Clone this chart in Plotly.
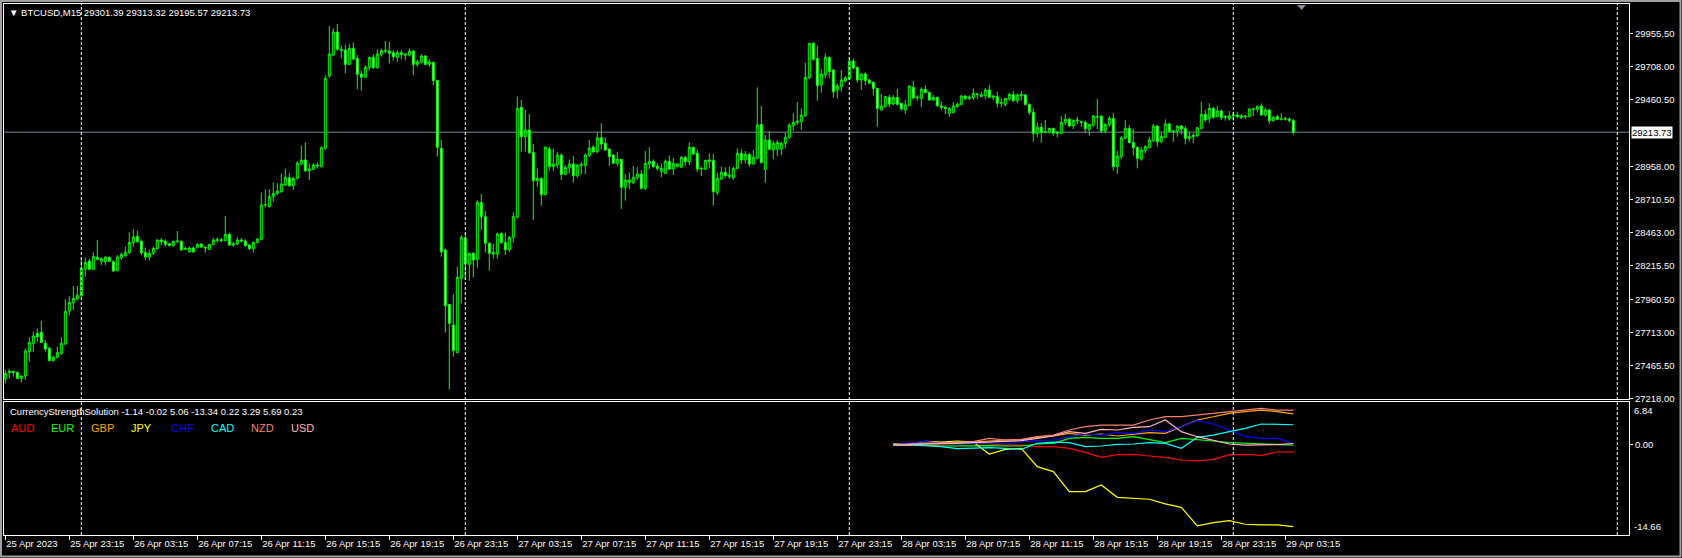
import pandas as pd
import plotly.graph_objects as go

# ---------------- DATA ----------------
SYMBOL_TITLE = "\u25BC BTCUSD,M15 29301.39 29313.32 29195.57 29213.73"
START = "2023-04-25 19:15"

open_ = [27362, 27410, 27420, 27412, 27367, 27385, 27567, 27630, 27705, 27712,
         27630, 27592, 27500, 27525, 27555, 27625, 27875, 27935, 27962, 27987,
         28187, 28247, 28185, 28275, 28242, 28242, 28275, 28242, 28175, 28272,
         28287, 28312, 28385, 28432, 28395, 28312, 28277, 28305, 28340, 28405,
         28395, 28377, 28362, 28392, 28395, 28335, 28317, 28345, 28347, 28375,
         28352, 28335, 28372, 28402, 28407, 28400, 28447, 28367, 28375, 28405,
         28397, 28367, 28340, 28385, 28410, 28667, 28655, 28730, 28755, 28767,
         28817, 28872, 28812, 28867, 28975, 29005, 28925, 28935, 28967, 28955,
         29092, 29635, 29792, 29965, 29835, 29830, 29722, 29842, 29767, 29650,
         29625, 29700, 29775, 29697, 29797, 29820, 29822, 29810, 29775, 29810,
         29790, 29792, 29822, 29722, 29737, 29785, 29722, 29737, 29602, 29092,
         28330, 27922, 27767, 27560, 28117, 28417, 28222, 28305, 28260, 28687,
         28580, 28380, 28310, 28300, 28455, 28387, 28332, 28425, 28577, 29400,
         29180, 29230, 29062, 28850, 28867, 28745, 29087, 28955, 28967, 29042,
         28897, 28947, 28975, 28887, 28965, 28962, 29037, 29102, 29067, 29172,
         29130, 29087, 29042, 28980, 29010, 28800, 28835, 28835, 28872, 28900,
         28792, 28975, 28995, 28960, 28917, 28905, 28995, 28937, 28955, 28950,
         29025, 28992, 29100, 29055, 28937, 28935, 29005, 29002, 28760, 28862,
         28912, 28880, 28872, 28942, 29055, 29005, 29047, 28975, 29017, 29272,
         28935, 29155, 29080, 29087, 29087, 29130, 29172, 29262, 29287, 29292,
         29337, 29622, 29880, 29767, 29567, 29642, 29775, 29680, 29530, 29555,
         29597, 29612, 29747, 29700, 29605, 29650, 29605, 29587, 29542, 29380,
         29405, 29475, 29425, 29475, 29430, 29380, 29412, 29550, 29470, 29467,
         29535, 29512, 29455, 29475, 29410, 29400, 29355, 29362, 29405, 29422,
         29485, 29465, 29472, 29497, 29480, 29487, 29530, 29475, 29480, 29430,
         29422, 29462, 29497, 29450, 29487, 29492, 29422, 29362, 29205, 29250,
         29212, 29212, 29242, 29205, 29205, 29285, 29310, 29262, 29297, 29292,
         29287, 29235, 29267, 29330, 29335, 29222, 29270, 29317, 28955, 29030,
         29167, 29242, 29137, 29100, 29012, 29075, 29097, 29150, 29260, 29142,
         29175, 29275, 29217, 29217, 29260, 29242, 29167, 29180, 29185, 29242,
         29347, 29315, 29392, 29330, 29372, 29325, 29312, 29335, 29342, 29322,
         29330, 29330, 29385, 29385, 29410, 29342, 29380, 29300, 29330, 29310,
         29312, 29312, 29301.39]
high = [27430, 27435, 27425, 27417, 27390, 27592, 27675, 27717, 27742, 27797,
        27655, 27605, 27535, 27605, 27675, 27960, 27985, 28060, 28060, 28267,
        28275, 28265, 28312, 28405, 28275, 28285, 28280, 28255, 28292, 28312,
        28355, 28462, 28487, 28475, 28410, 28350, 28335, 28355, 28410, 28420,
        28410, 28385, 28400, 28472, 28400, 28355, 28355, 28355, 28380, 28380,
        28355, 28375, 28420, 28425, 28420, 28585, 28460, 28392, 28425, 28420,
        28410, 28372, 28395, 28420, 28762, 28785, 28787, 28837, 28830, 28905,
        28942, 28905, 28880, 28997, 29112, 29137, 28980, 28980, 28987, 29110,
        29642, 30010, 29992, 30025, 29862, 29867, 29875, 29887, 29792, 29675,
        29717, 29780, 29800, 29835, 29842, 29897, 29892, 29830, 29830, 29830,
        29805, 29842, 29830, 29755, 29800, 29792, 29760, 29742, 29605, 29155,
        28342, 27925, 28000, 28205, 28442, 28455, 28310, 28315, 28705, 28750,
        28622, 28387, 28375, 28460, 28460, 28462, 28435, 28612, 29480, 29455,
        29380, 29350, 29125, 28942, 28875, 29105, 29105, 29092, 29067, 29055,
        28967, 29010, 29035, 28972, 28992, 29055, 29155, 29115, 29212, 29280,
        29175, 29090, 29050, 29067, 29012, 28900, 28912, 28960, 28950, 28930,
        29072, 29100, 29010, 28980, 28980, 29010, 29040, 29020, 28980, 29035,
        29035, 29137, 29105, 29080, 28955, 29007, 29055, 29050, 28910, 28955,
        28950, 28955, 28955, 29092, 29087, 29072, 29060, 29080, 29550, 29410,
        29192, 29222, 29150, 29155, 29142, 29210, 29280, 29355, 29440, 29392,
        29737, 29885, 29892, 29860, 29687, 29805, 29780, 29685, 29580, 29680,
        29635, 29775, 29767, 29705, 29655, 29665, 29615, 29595, 29547, 29500,
        29485, 29495, 29492, 29537, 29435, 29455, 29565, 29600, 29492, 29550,
        29565, 29517, 29492, 29480, 29442, 29415, 29400, 29440, 29435, 29492,
        29492, 29492, 29542, 29505, 29515, 29545, 29567, 29492, 29517, 29470,
        29472, 29510, 29522, 29505, 29522, 29500, 29430, 29397, 29285, 29280,
        29305, 29247, 29247, 29222, 29335, 29350, 29325, 29310, 29330, 29300,
        29300, 29275, 29342, 29462, 29340, 29280, 29335, 29360, 29075, 29185,
        29305, 29267, 29237, 29105, 29105, 29117, 29180, 29275, 29267, 29210,
        29310, 29285, 29230, 29265, 29267, 29260, 29217, 29205, 29255, 29442,
        29380, 29430, 29405, 29410, 29385, 29342, 29372, 29367, 29367, 29350,
        29342, 29392, 29392, 29417, 29430, 29397, 29385, 29335, 29342, 29355,
        29330, 29325, 29313.32]
low = [27330, 27367, 27380, 27362, 27335, 27355, 27492, 27567, 27642, 27630,
       27567, 27497, 27492, 27517, 27542, 27617, 27842, 27880, 27955, 27980,
       28130, 28180, 28180, 28255, 28217, 28217, 28240, 28167, 28172, 28255,
       28280, 28300, 28355, 28387, 28292, 28255, 28250, 28292, 28335, 28365,
       28355, 28355, 28355, 28385, 28325, 28330, 28310, 28312, 28342, 28345,
       28310, 28330, 28367, 28385, 28387, 28395, 28360, 28355, 28367, 28385,
       28355, 28330, 28312, 28380, 28405, 28650, 28650, 28692, 28742, 28760,
       28810, 28805, 28780, 28860, 28967, 28915, 28855, 28930, 28942, 28950,
       29080, 29622, 29785, 29825, 29767, 29655, 29717, 29755, 29535, 29525,
       29622, 29675, 29687, 29690, 29780, 29805, 29730, 29750, 29742, 29760,
       29752, 29780, 29642, 29705, 29730, 29717, 29705, 29567, 29030, 28280,
       27710, 27285, 27530, 27555, 27930, 28105, 28100, 28125, 28197, 28480,
       28312, 28175, 28265, 28265, 28375, 28292, 28312, 28385, 28567, 29067,
       29067, 29050, 28555, 28805, 28662, 28742, 28925, 28925, 28942, 28855,
       28892, 28905, 28835, 28872, 28900, 28900, 29030, 29060, 29055, 29087,
       29075, 28962, 28975, 28960, 28637, 28700, 28787, 28825, 28855, 28785,
       28780, 28937, 28947, 28925, 28875, 28900, 28930, 28892, 28950, 28947,
       28962, 28967, 29042, 28915, 28885, 28930, 28942, 28662, 28742, 28855,
       28872, 28862, 28855, 28937, 28975, 28980, 28955, 28972, 29010, 28980,
       28835, 29080, 29012, 29035, 29042, 29092, 29167, 29225, 29267, 29230,
       29330, 29610, 29750, 29450, 29510, 29617, 29617, 29472, 29465, 29517,
       29585, 29605, 29685, 29585, 29530, 29565, 29575, 29487, 29255, 29375,
       29400, 29400, 29417, 29415, 29375, 29350, 29410, 29460, 29450, 29400,
       29505, 29450, 29450, 29405, 29380, 29350, 29330, 29355, 29397, 29417,
       29455, 29455, 29455, 29460, 29478, 29460, 29467, 29455, 29400, 29400,
       29405, 29450, 29442, 29430, 29450, 29415, 29342, 29142, 29175, 29135,
       29205, 29205, 29185, 29175, 29200, 29267, 29255, 29237, 29275, 29255,
       29205, 29187, 29255, 29237, 29205, 29205, 29255, 28925, 28900, 29010,
       29160, 29130, 29037, 28942, 29000, 29055, 29092, 29142, 29105, 29130,
       29170, 29212, 29142, 29180, 29197, 29122, 29142, 29130, 29180, 29237,
       29292, 29285, 29315, 29325, 29305, 29300, 29300, 29300, 29317, 29312,
       29312, 29325, 29335, 29360, 29335, 29330, 29275, 29292, 29305, 29300,
       29300, 29285, 29195.57]
close = [27405, 27422, 27412, 27367, 27385, 27572, 27637, 27685, 27680, 27637,
         27587, 27500, 27525, 27560, 27630, 27870, 27937, 27967, 27990, 28192,
         28237, 28185, 28280, 28260, 28265, 28275, 28245, 28172, 28277, 28297,
         28312, 28387, 28427, 28392, 28310, 28277, 28305, 28342, 28405, 28392,
         28372, 28365, 28395, 28397, 28330, 28342, 28345, 28315, 28372, 28352,
         28345, 28372, 28405, 28407, 28402, 28447, 28367, 28375, 28405, 28397,
         28362, 28340, 28387, 28412, 28667, 28670, 28730, 28755, 28772, 28825,
         28875, 28812, 28867, 28982, 29005, 28925, 28937, 28967, 28960, 29097,
         29617, 29800, 29965, 29835, 29827, 29722, 29842, 29762, 29647, 29625,
         29700, 29775, 29697, 29800, 29825, 29827, 29805, 29780, 29810, 29797,
         29800, 29822, 29722, 29742, 29785, 29722, 29740, 29600, 29100, 28317,
         27912, 27780, 27575, 28125, 28425, 28230, 28305, 28255, 28687, 28580,
         28380, 28305, 28300, 28450, 28387, 28332, 28425, 28580, 29392, 29180,
         29230, 29060, 28850, 28867, 28745, 29102, 28955, 28975, 29042, 28897,
         28950, 28975, 28887, 28967, 28972, 29042, 29095, 29065, 29172, 29125,
         29080, 29030, 28980, 29012, 28800, 28855, 28855, 28875, 28900, 28792,
         28980, 28995, 28955, 28942, 28942, 28995, 28937, 28980, 28975, 29025,
         28992, 29100, 29050, 28937, 28942, 29002, 28995, 28767, 28867, 28912,
         28887, 28892, 28942, 29055, 29005, 29047, 28975, 29025, 29267, 28985,
         29155, 29085, 29130, 29137, 29130, 29175, 29267, 29287, 29297, 29342,
         29625, 29880, 29760, 29562, 29650, 29775, 29667, 29517, 29560, 29605,
         29622, 29747, 29697, 29605, 29650, 29600, 29580, 29542, 29392, 29410,
         29480, 29425, 29475, 29422, 29387, 29417, 29560, 29470, 29475, 29535,
         29510, 29455, 29475, 29412, 29400, 29392, 29392, 29410, 29425, 29485,
         29467, 29475, 29505, 29500, 29495, 29530, 29475, 29485, 29430, 29435,
         29467, 29497, 29450, 29492, 29497, 29422, 29362, 29205, 29250, 29212,
         29217, 29242, 29205, 29215, 29287, 29310, 29260, 29300, 29305, 29287,
         29240, 29272, 29335, 29327, 29222, 29272, 29317, 28955, 29035, 29172,
         29242, 29135, 29097, 29017, 29080, 29105, 29155, 29260, 29142, 29180,
         29275, 29217, 29222, 29260, 29237, 29167, 29180, 29192, 29247, 29347,
         29305, 29392, 29325, 29372, 29322, 29330, 29337, 29342, 29330, 29335,
         29335, 29387, 29390, 29405, 29342, 29380, 29300, 29325, 29310, 29312,
         29315, 29302, 29213.73]

price_tick_values = [27218.00, 27465.50, 27713.00, 27960.50, 28215.50, 28463.00,
                     28710.50, 28958.00, 29460.50, 29708.00, 29955.50]
current_price = 29213.73

date_tick_labels = ["25 Apr 2023", "25 Apr 23:15", "26 Apr 03:15", "26 Apr 07:15",
                    "26 Apr 11:15", "26 Apr 15:15", "26 Apr 19:15", "26 Apr 23:15",
                    "27 Apr 03:15", "27 Apr 07:15", "27 Apr 11:15", "27 Apr 15:15",
                    "27 Apr 19:15", "27 Apr 23:15", "28 Apr 03:15", "28 Apr 07:15",
                    "28 Apr 11:15", "28 Apr 15:15", "28 Apr 19:15", "28 Apr 23:15",
                    "29 Apr 03:15"]
day_separators = ["2023-04-26", "2023-04-27", "2023-04-28", "2023-04-29", "2023-04-30"]

# Currency strength indicator (hourly samples, last point = last bar)
currencies = ["AUD", "EUR", "GBP", "JPY", "CHF", "CAD", "NZD", "USD"]
colors = ["#ff0000", "#00ff00", "#ffa500", "#ffff00", "#0000ff", "#00ffff", "#fa8072", "#ffb6c1"]
last_values = [-1.14, -0.02, 5.06, -13.34, 0.22, 3.29, 5.69, 0.23]

AUD = [0.04, 0.15, 0.09, 0.15, 0.15, 0.26, 0.15, -0.02, -0.02, -0.29, -0.29, -0.56, -1.21,
       -2.03, -1.59, -1.54, -1.81, -2.03, -2.46, -2.62, -2.35, -1.59, -1.54, -1.70, -1.16, -1.14]
EUR = [-0.02, 0.04, -0.02, -0.18, -0.12, -0.12, -0.12, -0.18, -0.18, 0.15, 0.26, 1.07, 1.23,
       1.07, 1.07, 1.34, 0.91, 0.36, 1.07, 0.91, 0.64, 0.36, 0.26, 0.09, -0.02, -0.02]
GBP = [0.15, 0.09, 0.26, 0.26, 0.36, 0.47, 0.69, 0.80, 0.80, 1.23, 1.45, 1.89, 1.61,
       1.78, 1.45, 1.78, 1.99, 1.89, 2.97, 4.06, 4.60, 5.15, 5.42, 5.69, 5.42, 5.06]
JPY = [0.15, 0.15, 0.58, 0.47, 0.64, 0.47, -1.50, -0.72, -0.56, -3.55, -4.36, -7.62, -7.62,
       -6.54, -8.55, -8.71, -8.87, -9.63, -10.18, -13.22, -12.68, -12.35, -12.95, -13.06, -13.06, -13.34]
CHF = [0.04, 0.36, 0.58, 0.26, 0.15, 0.26, 0.36, 0.15, 0.53, 0.69, 0.80, 1.34, 1.78,
       1.61, 1.99, 1.89, 2.43, 2.16, 2.97, 3.95, 3.41, 2.43, 1.34, 1.07, 1.07, 0.22]
CAD = [0.15, 0.04, -0.07, -0.29, -0.61, -0.56, -0.45, -0.56, -0.72, 0.26, 0.47, 0.36, -0.29,
       -0.18, 0.09, 0.15, 0.36, 0.26, -0.56, 1.23, 1.61, 2.16, 2.70, 3.41, 3.30, 3.29]
NZD = [0.04, 0.15, 0.15, 0.26, 0.36, 0.53, 1.07, 0.80, 0.91, 1.34, 1.61, 2.43, 2.97,
       3.24, 3.24, 3.24, 4.06, 4.60, 4.60, 4.88, 5.15, 5.42, 5.69, 5.96, 5.69, 5.69]
USD = [-0.02, -0.02, 0.15, 0.15, 0.26, 0.36, 0.47, 0.64, 0.69, 1.07, 1.45, 2.16, 1.89,
       2.54, 2.43, 2.86, 2.97, 4.06, 2.16, 1.34, 0.69, 0.15, -0.02, -0.02, 0.04, 0.23]
strength = [AUD, EUR, GBP, JPY, CHF, CAD, NZD, USD]
strength_times = list(pd.date_range("2023-04-28 02:45", periods=25, freq="1h")) + [pd.Timestamp("2023-04-29 03:45")]
strength_max, strength_min = 6.84, -14.66

# ---------------- LAYOUT GEOMETRY ----------------
W, H = 1682, 558
L, R, T, B = 4, 1629, 4, 535        # plot area in pixels
PW, PH = R - L, B - T
def px(x):  # pixel x -> paper
    return (x - L) / PW
def py(y):  # pixel y -> paper
    return (B - y) / PH

main_dom = [py(399), 1.0]
sub_dom = [0.0, py(401.7)]

times = pd.date_range(START, periods=len(close), freq="15min")
bar = pd.Timedelta(minutes=15)
x_range = [times[0] - bar * 0.33, times[0] + bar * 405.93]
tick_times = list(pd.date_range(START, periods=len(date_tick_labels), freq="4h"))

FONT = "Liberation Sans"
fig = go.Figure()

fig.add_trace(go.Candlestick(
    x=times, open=open_, high=high, low=low, close=close,
    increasing=dict(line=dict(color="#00ff00", width=1), fillcolor="#000000"),
    decreasing=dict(line=dict(color="#00ff00", width=1), fillcolor="#ffffff"),
    whiskerwidth=0, xaxis="x", yaxis="y", hoverinfo="skip"))

for name, vals, col in zip(currencies, strength, colors):
    fig.add_trace(go.Scatter(x=strength_times, y=vals, mode="lines", name=name,
                             line=dict(color=col, width=1.2), xaxis="x2", yaxis="y2",
                             hoverinfo="skip"))

axis_common = dict(showgrid=False, zeroline=False, showline=True, linecolor="#ffffff",
                   linewidth=1, mirror=True, automargin=False)
fig.update_layout(
    width=W, height=H, margin=dict(l=L, r=W - R, t=T, b=H - B, pad=0, autoexpand=False),
    paper_bgcolor="#000000", plot_bgcolor="#000000", showlegend=False,
    font=dict(family=FONT, size=10, color="#ffffff"),
    xaxis=dict(domain=[0, 1], anchor="y", range=x_range, showticklabels=False, ticks="",
               rangeslider=dict(visible=False), **axis_common),
    yaxis=dict(domain=main_dom, anchor="x", side="right", range=[27212.5, 30175],
               tickvals=price_tick_values, ticktext=[f"{v:.2f}" for v in price_tick_values],
               ticks="outside", ticklen=3, tickcolor="#ffffff",
               tickfont=dict(family=FONT, size=9.5, color="#ffffff"), **axis_common),
    xaxis2=dict(domain=[0, 1], anchor="y2", range=x_range, tickvals=tick_times,
                ticktext=date_tick_labels, ticks="outside", ticklen=4, tickcolor="#ffffff",
                tickangle=0, ticklabelposition="outside right",
                tickfont=dict(family=FONT, size=9.5, color="#ffffff"), **axis_common),
    yaxis2=dict(domain=sub_dom, anchor="x2", side="right", range=[-14.70, 7.05],
                tickvals=[0], ticktext=["0.00"], ticks="outside", ticklen=3,
                tickcolor="#ffffff", tickfont=dict(family=FONT, size=9.5, color="#ffffff"),
                **axis_common),
)

shapes = []
# current price line
shapes.append(dict(type="line", xref="paper", yref="y", x0=0, x1=1, y0=current_price,
                   y1=current_price, line=dict(color="#778899", width=1), layer="below"))
# day separators
for d in day_separators:
    shapes.append(dict(type="line", xref="x", yref="paper", x0=d, x1=d, y0=0, y1=1,
                       line=dict(color="#ffffff", width=1, dash="3px,2px")))
# window frame
shapes.append(dict(type="rect", xref="paper", yref="paper", x0=px(1), x1=px(1680.5),
                   y0=py(556.5), y1=py(1), line=dict(color="#a0a0a0", width=2)))
# chart shift marker
shapes.append(dict(type="path", xref="paper", yref="paper",
                   path=f"M {px(1297)} {py(5)} L {px(1306)} {py(5)} L {px(1301.5)} {py(10)} Z",
                   fillcolor="#8c8c9c", line=dict(width=0)))
fig.update_layout(shapes=shapes)

ann = []
ann.append(dict(text=SYMBOL_TITLE, xref="paper", yref="paper", x=px(7), y=py(12),
                xanchor="left", yanchor="middle", showarrow=False,
                font=dict(family=FONT, size=9.5, color="#ffffff")))
ann.append(dict(text="CurrencyStrengthSolution " + " ".join(f"{v:.2f}" for v in last_values),
                xref="paper", yref="paper", x=px(8), y=py(411), xanchor="left",
                yanchor="middle", showarrow=False,
                font=dict(family=FONT, size=9.5, color="#ffffff")))
for k, (name, col) in enumerate(zip(currencies, colors)):
    ann.append(dict(text=name, xref="paper", yref="paper", x=px(9 + 40 * k), y=py(428),
                    xanchor="left", yanchor="middle", showarrow=False,
                    font=dict(family=FONT, size=11, color=col)))
ann.append(dict(text=f"{current_price:.2f}", xref="paper", yref="y", x=1, y=current_price,
                xanchor="left", yanchor="middle", xshift=2, showarrow=False, bgcolor="#ffffff",
                borderpad=0, font=dict(family=FONT, size=9.5, color="#000000")))
ann.append(dict(text=f"{strength_max:.2f}", xref="paper", yref="paper", x=px(1632), y=py(403),
                xanchor="left", yanchor="top", showarrow=False,
                font=dict(family=FONT, size=9.5, color="#ffffff")))
ann.append(dict(text=f"{strength_min:.2f}", xref="paper", yref="paper", x=px(1632), y=py(534),
                xanchor="left", yanchor="bottom", showarrow=False,
                font=dict(family=FONT, size=9.5, color="#ffffff")))
fig.update_layout(annotations=ann)

fig.write_html("out.html", config={"displayModeBar": False},
               post_script="document.body.style.margin='0';document.body.style.overflow='hidden';")
